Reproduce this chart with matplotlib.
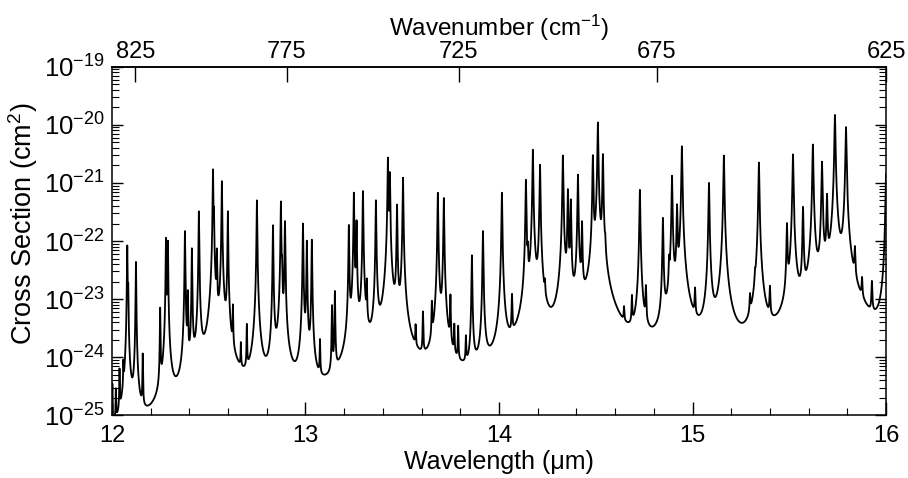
import numpy as np
import matplotlib
matplotlib.use("Agg")
import matplotlib.pyplot as plt
from matplotlib.ticker import FixedLocator, FuncFormatter, LogLocator, MultipleLocator, NullFormatter

plt.rcParams['font.family'] = ['Liberation Sans', 'DejaVu Sans']

# line centres (um) and peak cross sections (log10 cm^2)
line_centers = [12.002, 12.020, 12.039, 12.059, 12.079, 12.084, 12.124, 12.159, 12.249, 12.279, 12.289,
                12.377, 12.392, 12.413, 12.449, 12.522, 12.527, 12.542, 12.568, 12.599, 12.625,
                12.666, 12.697, 12.749, 12.832, 12.873, 12.879, 12.894, 12.987, 13.007, 13.033,
                13.075, 13.137, 13.152, 13.224, 13.250, 13.264, 13.297, 13.317, 13.364, 13.426,
                13.436, 13.473, 13.504, 13.569, 13.607, 13.653, 13.684, 13.715, 13.749, 13.769,
                13.789, 13.829, 13.860, 13.917, 14.015, 14.067, 14.139, 14.149, 14.175, 14.212,
                14.237, 14.330, 14.356, 14.371, 14.408, 14.429, 14.485, 14.511, 14.537, 14.549,
                14.646, 14.687, 14.728, 14.759, 14.847, 14.879, 14.894, 14.920, 14.945, 15.013,
                15.085, 15.162, 15.297, 15.323, 15.343, 15.400, 15.488, 15.519, 15.571, 15.622,
                15.669, 15.695, 15.736, 15.793, 15.839, 15.876, 15.927, 16.0]
line_peaks = [-24.55, -24.7, -24.3, -24.27, -22.08, -22.83, -22.36, -24.0, -23.17, -21.95, -22.0,
              -21.83, -22.9, -22.13, -21.49, -20.77, -21.55, -22.2, -20.97, -21.49, -23.2,
              -23.96, -23.52, -21.30, -21.73, -21.32, -22.5, -21.66, -21.70, -22.0, -21.98,
              -23.82, -23.14, -22.88, -21.73, -21.17, -21.66, -21.14, -22.77, -21.30, -20.57,
              -20.83, -21.38, -20.91, -23.7, -23.31, -23.17, -21.17, -21.26, -23.0, -23.6,
              -23.6, -23.83, -22.25, -21.83, -21.17, -23.03, -20.95, -22.3, -20.43, -20.69,
              -23.1, -20.53, -21.12, -21.3, -20.86, -21.7, -20.53, -19.96, -20.51, -22.36,
              -23.5, -23.12, -21.12, -22.9, -21.61, -22.5, -20.88, -21.40, -20.37, -23.0,
              -21.0, -20.53, -23.2, -23.0, -20.65, -22.95, -21.73, -20.51, -21.43, -20.34,
              -20.64, -21.23, -19.83, -20.04, -22.27, -22.9, -22.85, -20.85]

wl_ticks = [12, 13, 14, 15, 16]
wn_ticks = [825, 775, 725, 675, 625]

wl = np.linspace(12.0, 16.0, 40001)
gamma = 0.00115 * (wl / 12.0) ** 2.3
xsec = np.zeros_like(wl)
for c, p in zip(line_centers, line_peaks):
    xsec += 10.0 ** p * gamma ** 2 / ((wl - c) ** 2 + gamma ** 2)

fig = plt.figure(figsize=(9.08, 4.78), dpi=100)
ax = fig.add_axes([0.1233, 0.1308, 0.8525, 0.7297])
ax.plot(wl, xsec, color='black', lw=1.3)
ax.set_yscale('log')
ax.set_xlim(12, 16)
ax.set_ylim(1e-25, 1e-19)

ax.xaxis.set_major_locator(FixedLocator(wl_ticks))
ax.xaxis.set_minor_locator(MultipleLocator(0.2))
ax.yaxis.set_major_locator(LogLocator(base=10, numticks=20))
ax.yaxis.set_minor_locator(LogLocator(base=10, subs=np.arange(2, 10), numticks=20))
ax.yaxis.set_minor_formatter(NullFormatter())
ax.yaxis.set_major_formatter(FuncFormatter(
    lambda v, pos: r'$\mathregular{10^{%d}}$' % round(np.log10(v))))

ax.tick_params(which='both', direction='in', right=True, top=False)
ax.tick_params(axis='x', which='major', length=9.5, width=1, pad=7, labelsize=17)
ax.tick_params(axis='x', which='minor', length=5, width=0.8)
ax.tick_params(axis='y', which='major', length=8, width=1, pad=5, labelsize=18.5)
ax.tick_params(axis='y', which='minor', length=5, width=0.8)
for s in ax.spines.values():
    s.set_linewidth(1.1)

ax.set_xlabel('Wavelength (\u03bcm)', fontsize=18, labelpad=2)
ax.set_ylabel('Cross Section (cm$\\mathregular{^2}$)', fontsize=19.5)
ax.yaxis.set_label_coords(-0.093, 0.55)

top = ax.secondary_xaxis('top', functions=(lambda x: 1e4 / x, lambda k: 1e4 / k))
top.xaxis.set_major_locator(FixedLocator(wn_ticks))
top.xaxis.set_minor_locator(FixedLocator([]))
top.tick_params(direction='in', length=11, width=1, labelsize=17, pad=3)
top.set_xlabel('Wavenumber (cm$\\mathregular{^{-1}}$)', fontsize=17.5, labelpad=3)
top.spines['top'].set_linewidth(1.1)

fig.savefig('out.png', dpi=100)
